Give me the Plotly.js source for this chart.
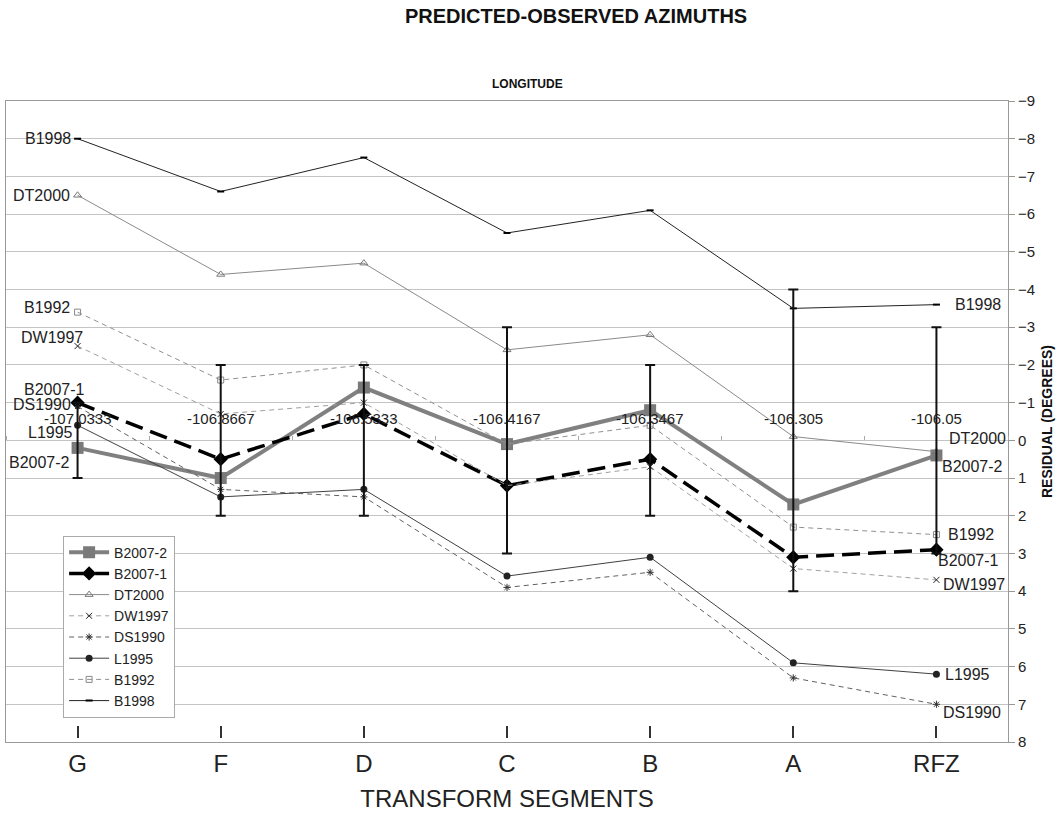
<!DOCTYPE html>
<html>
<head>
<meta charset="utf-8">
<script src="https://cdn.plot.ly/plotly-3.0.1.min.js"></script>
<style>html,body{margin:0;padding:0;background:#fff;}#chart{width:1057px;height:817px;}</style>
</head>
<body>
<div id="chart"></div>
<script>
// ---- data ----
var categories = ['G', 'F', 'D', 'C', 'B', 'A', 'RFZ'];
var longitudes = ['-107.0333', '-106.8667', '-106.5333', '-106.4167', '-106.3467', '-106.305', '-106.05'];
var errorHalfWidth = [1, 2, 2, 3, 2, 4, 3];
var B2007_2 = [0.2, 1.0, -1.4, 0.1, -0.8, 1.7, 0.4];
var B2007_1 = [-1.0, 0.5, -0.7, 1.2, 0.5, 3.1, 2.9];
var DT2000  = [-6.5, -4.4, -4.7, -2.4, -2.8, -0.1, 0.3];
var DW1997  = [-2.5, -0.7, -1.0, 1.2, 0.7, 3.4, 3.7];
var DS1990  = [-0.9, 1.3, 1.5, 3.9, 3.5, 6.3, 7.0];
var L1995   = [-0.4, 1.5, 1.3, 3.6, 3.1, 5.9, 6.2];
var B1992   = [-3.4, -1.6, -2.0, 0.1, -0.4, 2.3, 2.5];
var B1998   = [-8.0, -6.6, -7.5, -5.5, -6.1, -3.5, -3.6];

// ---- styles ----
var FONT = 'Liberation Sans, Arial, sans-serif';
var series = [
  {name:'B2007-2', y:B2007_2, line:{color:'#808080', width:4}, marker:{symbol:'square', size:12, color:'#7a7a7a'},
   left:{dx:-6, dy:-15}, right:{dx:4, dy:-11}},
  {name:'B2007-1', y:B2007_1, line:{color:'#000', width:3.5, dash:'18px,8px'}, marker:{symbol:'diamond', size:11, color:'#000'},
   left:{dx:9, dy:13}, right:{dx:0, dy:-11}},
  {name:'DT2000', y:DT2000, line:{color:'#8a8a8a', width:1}, marker:{symbol:'triangle-up-open', size:7, color:'#777', line:{width:1}},
   left:{dx:-6, dy:0}, right:{dx:11, dy:13}},
  {name:'DW1997', y:DW1997, line:{color:'#a0a0a0', width:1, dash:'5px,4px'}, marker:{symbol:'x-thin-open', size:6, color:'#222', line:{width:1}},
   left:{dx:7, dy:9}, right:{dx:5, dy:-5}},
  {name:'DS1990', y:DS1990, line:{color:'#606060', width:1, dash:'5px,4px'}, marker:{symbol:'asterisk-open', size:6, color:'#333', line:{width:1}},
   left:{dx:-5, dy:2}, right:{dx:5, dy:-8}},
  {name:'L1995', y:L1995, line:{color:'#404040', width:1}, marker:{symbol:'circle', size:7, color:'#222'},
   left:{dx:-3, dy:-7}, right:{dx:7, dy:0}},
  {name:'B1992', y:B1992, line:{color:'#909090', width:1, dash:'5px,4px'}, marker:{symbol:'square-open', size:6, color:'#888', line:{width:1}},
   left:{dx:-6, dy:5}, right:{dx:10, dy:0}},
  {name:'B1998', y:B1998, line:{color:'#222', width:1}, marker:{symbol:'line-ew-open', size:5, color:'#000', line:{width:2}},
   left:{dx:-5, dy:0}, right:{dx:17, dy:0}}
];

var traces = series.map(function(s){
  return {type:'scatter', mode:'lines+markers', name:s.name, x:categories, y:s.y,
          line:s.line, marker:s.marker, xaxis:'x', yaxis:'y', hoverinfo:'name+y'};
});

var idx = categories.map(function(c,i){return i;});
var zeros = categories.map(function(){return 0;});
// invisible carrier for the category tick marks axis
traces.push({type:'scatter', mode:'markers', x:idx, y:zeros, xaxis:'x3', yaxis:'y',
  showlegend:false, marker:{size:1, opacity:0}, hoverinfo:'skip'});
// zero-line error-bar series on the longitude axis
traces.push({type:'scatter', mode:'markers', x:idx, y:zeros,
  xaxis:'x2', yaxis:'y', showlegend:false, marker:{size:1, opacity:0},
  error_y:{type:'data', array:errorHalfWidth, visible:true, color:'#111', thickness:2, width:5}});

var annotations = [];
series.forEach(function(s){
  var n = s.y.length - 1;
  annotations.push({x:categories[0], y:s.y[0], xref:'x', yref:'y', text:s.name, showarrow:false,
    xanchor:'right', yanchor:'middle', xshift:s.left.dx, yshift:s.left.dy,
    font:{family:FONT, size:16, color:'#222'}});
  annotations.push({x:categories[n], y:s.y[n], xref:'x', yref:'y', text:s.name, showarrow:false,
    xanchor:'left', yanchor:'middle', xshift:s.right.dx, yshift:s.right.dy,
    font:{family:FONT, size:16, color:'#222'}});
});
longitudes.forEach(function(l,i){
  annotations.push({x:i, y:0, xref:'x2', yref:'y', text:l, showarrow:false, yshift:22,
    xanchor:'center', yanchor:'middle', font:{family:FONT, size:15, color:'#222'}});
});
annotations.push({x:0.52, y:1, xref:'paper', yref:'paper', yanchor:'bottom', yshift:8, text:'<b>LONGITUDE</b>',
  showarrow:false, font:{family:FONT, size:12, color:'#111'}});

var layout = {
  width:1057, height:817,
  paper_bgcolor:'#fff', plot_bgcolor:'#fff',
  margin:{l:6, r:49, t:101, b:75},
  font:{family:FONT, color:'#222'},
  title:{text:'<b>PREDICTED-OBSERVED AZIMUTHS</b>', x:0.545, xanchor:'center', y:0.98, yanchor:'middle',
         font:{family:FONT, size:20, color:'#111'}},
  showlegend:true,
  legend:{x:0.057, y:0.322, xanchor:'left', yanchor:'top', bgcolor:'#fff', bordercolor:'#aaa', borderwidth:1,
          font:{family:FONT, size:14, color:'#222'}, tracegroupgap:0, itemwidth:40},
  xaxis:{type:'category', range:[-0.5, 6.5], showgrid:false, zeroline:false,
         showline:true, mirror:true, linecolor:'#999', linewidth:1,
         ticks:'', tickfont:{family:FONT, size:24, color:'#222'}, ticklabelstandoff:0,
         title:{text:'TRANSFORM SEGMENTS', font:{family:FONT, size:24, color:'#222'}, standoff:14}},
  xaxis2:{overlaying:'x', anchor:'free', position:8/17, side:'top', range:[-0.5, 6.5],
          tickvals:[-0.5,0.5,1.5,2.5,3.5,4.5,5.5,6.5], ticks:'outside', ticklen:4, tickcolor:'#aaa',
          showticklabels:false, showgrid:false, zeroline:false, showline:false},
  xaxis3:{overlaying:'x', anchor:'free', position:0.007, side:'top', range:[-0.5, 6.5],
          tickvals:idx, ticks:'outside', ticklen:12, tickwidth:2, tickcolor:'#333',
          showticklabels:false, showgrid:false, zeroline:false, showline:false},
  yaxis:{side:'right', range:[8, -9], dtick:1, tick0:0, showgrid:true, gridcolor:'#c4c4c4', gridwidth:1,
         zeroline:false, showline:true, mirror:true, linecolor:'#999', linewidth:1,
         ticks:'outside', ticklen:6, tickcolor:'#999',
         tickfont:{family:FONT, size:15, color:'#222'},
         title:{text:'<b>RESIDUAL (DEGREES)</b>', font:{family:FONT, size:14, color:'#111'}, standoff:8}},
  annotations:annotations
};

Plotly.newPlot('chart', traces, layout, {displayModeBar:false, staticPlot:true});
</script>
</body>
</html>
